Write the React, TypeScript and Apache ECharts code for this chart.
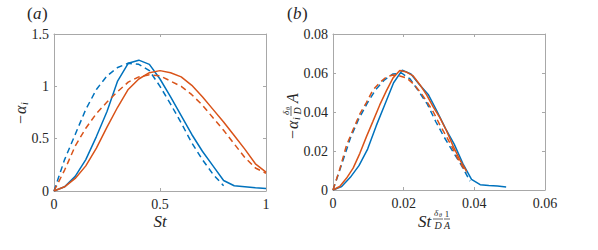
import React, { useEffect, useRef } from "react";
import * as echarts from "echarts";

const BLUE = "#0072BD";
const ORANGE = "#D95319";

// ---- panel (a): -alpha_i vs St ----
const stGrid = [0, 0.05, 0.1, 0.15, 0.2, 0.25, 0.3, 0.35, 0.4, 0.45, 0.5, 0.55, 0.6, 0.65, 0.7, 0.75, 0.8, 0.85, 0.9, 0.95, 1];
const aBlueSolid = [0, 0.04, 0.14, 0.3, 0.52, 0.76, 1.05, 1.22, 1.25, 1.21, 1.07, 0.9, 0.72, 0.54, 0.38, 0.24, 0.1, 0.05, 0.04, 0.03, 0.025];
const aBlueDashed = [0, 0.3, 0.54, 0.78, 0.97, 1.1, 1.18, 1.22, 1.21, 1.15, 1.0, 0.83, 0.65, 0.46, 0.3, 0.16, 0.05];
const aOrangeSolid = [0, 0.04, 0.12, 0.24, 0.41, 0.61, 0.8, 0.97, 1.07, 1.13, 1.15, 1.13, 1.09, 1.01, 0.9, 0.78, 0.66, 0.53, 0.4, 0.26, 0.18];
const aOrangeDashed = [0, 0.2, 0.43, 0.6, 0.74, 0.85, 0.95, 1.04, 1.09, 1.11, 1.1, 1.05, 1.0, 0.92, 0.82, 0.7, 0.58, 0.45, 0.32, 0.22, 0.17];

// ---- panel (b): scaled ----
const bBlueSolidX = [0, 0.00245, 0.0049, 0.00735, 0.0098, 0.01225, 0.0147, 0.01715, 0.0196, 0.02205, 0.0245, 0.02695, 0.0294, 0.03185, 0.0343, 0.03675, 0.0392, 0.04165, 0.0441, 0.04655, 0.049];
const bBlueSolidY = [0, 0.0018, 0.0065, 0.0125, 0.021, 0.033, 0.044, 0.055, 0.0615, 0.0595, 0.054, 0.049, 0.0405, 0.0315, 0.0235, 0.0135, 0.0055, 0.0027, 0.0023, 0.002, 0.0016];
const bBlueDashedX = [0, 0.0024, 0.0049, 0.0073, 0.0097, 0.0121, 0.0146, 0.017, 0.0194, 0.0218, 0.0243, 0.0267, 0.0291, 0.0315, 0.034, 0.0364, 0.0388];
const bBlueDashedY = [0, 0.0128, 0.0265, 0.0365, 0.0445, 0.0515, 0.0565, 0.0595, 0.06, 0.057, 0.0505, 0.044, 0.035, 0.027, 0.0195, 0.0125, 0.0045];
const bOrangeX = [0, 0.0019, 0.0038, 0.0057, 0.0076, 0.0095, 0.0113, 0.0132, 0.0151, 0.017, 0.0189, 0.0208, 0.0227, 0.0246, 0.0265, 0.0284, 0.0302, 0.0321, 0.034, 0.0359, 0.0378];
const bOrangeSolidY = [0, 0.0018, 0.006, 0.0112, 0.0188, 0.0275, 0.0352, 0.0435, 0.0508, 0.0575, 0.0613, 0.0605, 0.0585, 0.054, 0.0488, 0.0425, 0.0372, 0.0305, 0.0225, 0.0155, 0.0095];
const bOrangeDashedY = [0, 0.0106, 0.0228, 0.031, 0.039, 0.045, 0.0513, 0.055, 0.058, 0.059, 0.0585, 0.0575, 0.0545, 0.0505, 0.0455, 0.04, 0.0335, 0.0275, 0.021, 0.014, 0.009];

const zip = (xs: number[], ys: number[]) => ys.map((y, i) => [xs[i], y]);

const FONT = "Liberation Serif";
const TXT = "#262626";

export default function App() {
  const ref = useRef<HTMLDivElement>(null);
  useEffect(() => {
    const chart = echarts.init(ref.current!, null, { renderer: "svg" });
    const axisColor = "#a8a8a8";
    const lbl = { color: TXT, fontFamily: FONT, fontSize: 14 };
    const fmt2 = (v: number) => (v === 0 ? "0" : v.toFixed(2));
    const fmt1 = (v: number) => String(Math.round(v * 10) / 10);
    const mkAxis = (gridIndex: number, position: string, min: number, max: number, interval: number, fmt: any, showLabel: boolean) => ({
      type: "value",
      gridIndex,
      position,
      min,
      max,
      interval,
      axisLine: { show: true, onZero: false, lineStyle: { color: axisColor, width: 1 } },
      axisTick: { show: true, inside: true, length: 3, lineStyle: { color: axisColor } },
      splitLine: { show: false },
      axisLabel: { show: showLabel, ...lbl, margin: position === "bottom" ? 6 : 5, formatter: fmt },
    });
    const line = (data: number[][], color: string, dashed: boolean, xi: number, yi: number) => ({
      type: "line",
      data,
      xAxisIndex: xi,
      yAxisIndex: yi,
      showSymbol: false,
      symbol: "none",
      lineStyle: { color, width: 1.5, type: dashed ? [6, 4] : "solid" },
      silent: true,
    });
    const italic = (text: string, x: number, y: number, size: number, align = "left") => ({
      type: "text",
      style: { text, x, y, fontFamily: FONT, fontSize: size, fontStyle: "italic", fill: TXT, align, verticalAlign: "middle" },
    });
    const plain = (text: string, x: number, y: number, size: number, align = "left") => ({
      type: "text",
      style: { text, x, y, fontFamily: FONT, fontSize: size, fill: TXT, align, verticalAlign: "middle" },
    });
    const bar = (x1: number, x2: number, y: number) => ({
      type: "line",
      shape: { x1, y1: y, x2, y2: y },
      style: { stroke: TXT, lineWidth: 0.7 },
    });

    const option: any = {
      animation: false,
      backgroundColor: "#ffffff",
      textStyle: { fontFamily: FONT },
      grid: [
        { left: 54, top: 34, width: 212, height: 157 },
        { left: 333, top: 34, width: 212, height: 156 },
      ],
      xAxis: [
        mkAxis(0, "bottom", 0, 1, 0.5, fmt1, true),
        mkAxis(0, "top", 0, 1, 0.5, fmt1, false),
        mkAxis(1, "bottom", 0, 0.06, 0.02, fmt2, true),
        mkAxis(1, "top", 0, 0.06, 0.02, fmt2, false),
      ],
      yAxis: [
        mkAxis(0, "left", 0, 1.5, 0.5, fmt1, true),
        mkAxis(0, "right", 0, 1.5, 0.5, fmt1, false),
        mkAxis(1, "left", 0, 0.08, 0.02, fmt2, true),
        mkAxis(1, "right", 0, 0.08, 0.02, fmt2, false),
      ],
      series: [
        line(zip(stGrid, aBlueSolid), BLUE, false, 0, 0),
        line(zip(stGrid, aOrangeSolid), ORANGE, false, 0, 0),
        line(zip(stGrid, aBlueDashed), BLUE, true, 0, 0),
        line(zip(stGrid, aOrangeDashed), ORANGE, true, 0, 0),
        line(zip(bBlueSolidX, bBlueSolidY), BLUE, false, 2, 2),
        line(zip(bOrangeX, bOrangeSolidY), ORANGE, false, 2, 2),
        line(zip(bBlueDashedX, bBlueDashedY), BLUE, true, 2, 2),
        line(zip(bOrangeX, bOrangeDashedY), ORANGE, true, 2, 2),
      ],
      graphic: [
        // panel titles
        { type: "group", children: [plain("(", 27, 13, 17), italic("a", 33, 13, 17), plain(")", 42, 13, 17)] },
        { type: "group", children: [plain("(", 287, 13, 17), italic("b", 293, 13, 17), plain(")", 302, 13, 17)] },
        // x labels
        italic("St", 160, 221, 17, "center"),
        {
          type: "group",
          children: [
            italic("St", 418, 221, 17),
            italic("δ", 434, 213, 9),
            italic("θ", 439, 215, 6),
            bar(433, 443, 219),
            italic("D", 438, 225, 10, "center"),
            plain("1", 447, 213.5, 9, "center"),
            bar(444, 450, 219),
            italic("A", 447, 225, 10, "center"),
          ],
        },
        // y label (a)
        {
          type: "group",
          x: 20,
          y: 111,
          rotation: Math.PI / 2,
          children: [plain("−", -13, 0, 16), italic("α", -3, 0, 16), italic("i", 6, 4, 10)],
        },
        // y label (b)
        {
          type: "group",
          x: 292,
          y: 112,
          rotation: Math.PI / 2,
          children: [
            plain("−", -27, 0, 16),
            italic("α", -17, 0, 16),
            italic("i", -8, 4, 10),
            italic("δ", -3, -6, 9),
            italic("θ", 2, -4, 6),
            bar(-4, 6, -1),
            italic("D", 1, 5, 10, "center"),
            italic("A", 9, 0, 16),
          ],
        },
      ],
    };
    chart.setOption(option);
    return () => chart.dispose();
  }, []);
  return (
    <div
      ref={ref}
      style={{ position: "absolute", left: 0, top: 0, width: 598, height: 250, background: "#fff" }}
    />
  );
}
